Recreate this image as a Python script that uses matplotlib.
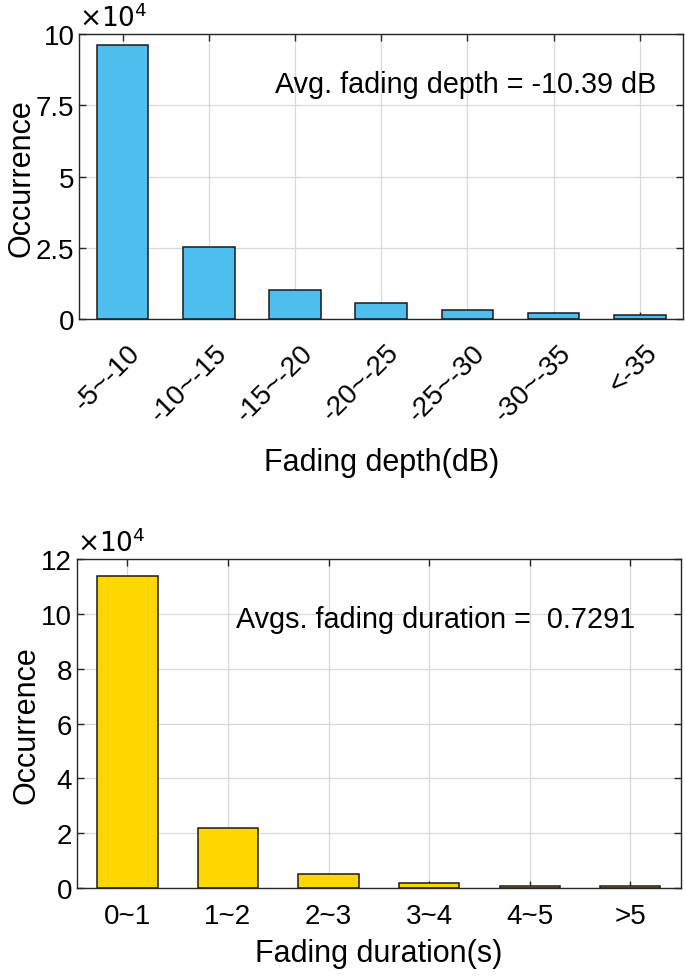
import matplotlib
matplotlib.use('Agg')
import matplotlib.pyplot as plt
import matplotlib.transforms as mtransforms
import numpy as np

plt.rcParams['font.family'] = ['Liberation Sans', 'DejaVu Sans']

# fading depth histogram (counts)
depth_bins = ['-5~-10', '-10~-15', '-15~-20', '-20~-25', '-25~-30', '-30~-35', '<-35']
depth_counts = [96300, 25400, 10200, 5500, 3300, 2000, 1500]
depth_note = 'Avg. fading depth = -10.39 dB'

# fading duration histogram (counts)
dur_bins = ['0~1', '1~2', '2~3', '3~4', '4~5', '>5']
dur_counts = [114100, 21900, 5100, 1700, 600, 800]
dur_note = 'Avgs. fading duration =  0.7291'

scale = 1e4

fig = plt.figure(figsize=(6.85, 9.79), dpi=100)
ax1 = fig.add_axes([0.116, 0.673, 0.881, 0.291])
ax2 = fig.add_axes([0.1125, 0.092, 0.881, 0.3355])


def style(ax):
    ax.set_axisbelow(True)
    ax.grid(True, color='#d9d9d9', lw=0.9)
    ax.tick_params(direction='in', top=True, right=True, length=5,
                   width=1.0, labelsize=20, color='#262626')
    for s in ax.spines.values():
        s.set_linewidth(1.0)
        s.set_color('#262626')


# top panel
x1 = np.arange(1, len(depth_bins) + 1)
ax1.bar(x1, np.array(depth_counts) / scale, width=0.6, color='#4DBEEE',
        edgecolor='#1a1a1a', linewidth=1.1, zorder=2)
ax1.set_xlim(0.5, len(depth_bins) + 0.5)
ax1.set_ylim(0, 10)
ax1.set_yticks([0, 2.5, 5, 7.5, 10])
ax1.set_yticklabels(['0', '2.5', '5', '7.5', '10'])
ax1.set_xticks(x1)
ax1.set_xticklabels(depth_bins, rotation=45, rotation_mode='anchor',
                    ha='right', va='center')
style(ax1)
ax1.tick_params(axis='x', pad=21)
off = mtransforms.ScaledTranslation(0.14, 0, fig.dpi_scale_trans)
for lbl in ax1.get_xticklabels():
    lbl.set_transform(lbl.get_transform() + off)
ax1.set_ylabel('Occurrence', fontsize=22, labelpad=0)
ax1.set_xlabel('Fading depth(dB)', fontsize=22, labelpad=15)
ax1.text(0.955, 0.825, depth_note, transform=ax1.transAxes, ha='right',
         va='center', fontsize=20.7)
ax1.text(0.0, 1.01, r'$\times10^{4}$', transform=ax1.transAxes, ha='left',
         va='bottom', fontsize=19, math_fontfamily='dejavusans')

# bottom panel
x2 = np.arange(1, len(dur_bins) + 1)
ax2.bar(x2, np.array(dur_counts) / scale, width=0.6, color='#FFD700',
        edgecolor='#1a1a1a', linewidth=1.1, zorder=2)
ax2.set_xlim(0.5, len(dur_bins) + 0.5)
ax2.set_ylim(0, 12)
ax2.set_yticks([0, 2, 4, 6, 8, 10, 12])
ax2.set_xticks(x2)
ax2.set_xticklabels(dur_bins)
style(ax2)
ax2.tick_params(axis='x', pad=11)
ax2.set_ylabel('Occurrence', fontsize=22, labelpad=0)
ax2.set_xlabel('Fading duration(s)', fontsize=22, labelpad=6)
ax2.text(0.925, 0.82, dur_note, transform=ax2.transAxes, ha='right',
         va='center', fontsize=20.7)
ax2.text(0.0, 1.01, r'$\times10^{4}$', transform=ax2.transAxes, ha='left',
         va='bottom', fontsize=19, math_fontfamily='dejavusans')

fig.savefig('out.png', dpi=100)
